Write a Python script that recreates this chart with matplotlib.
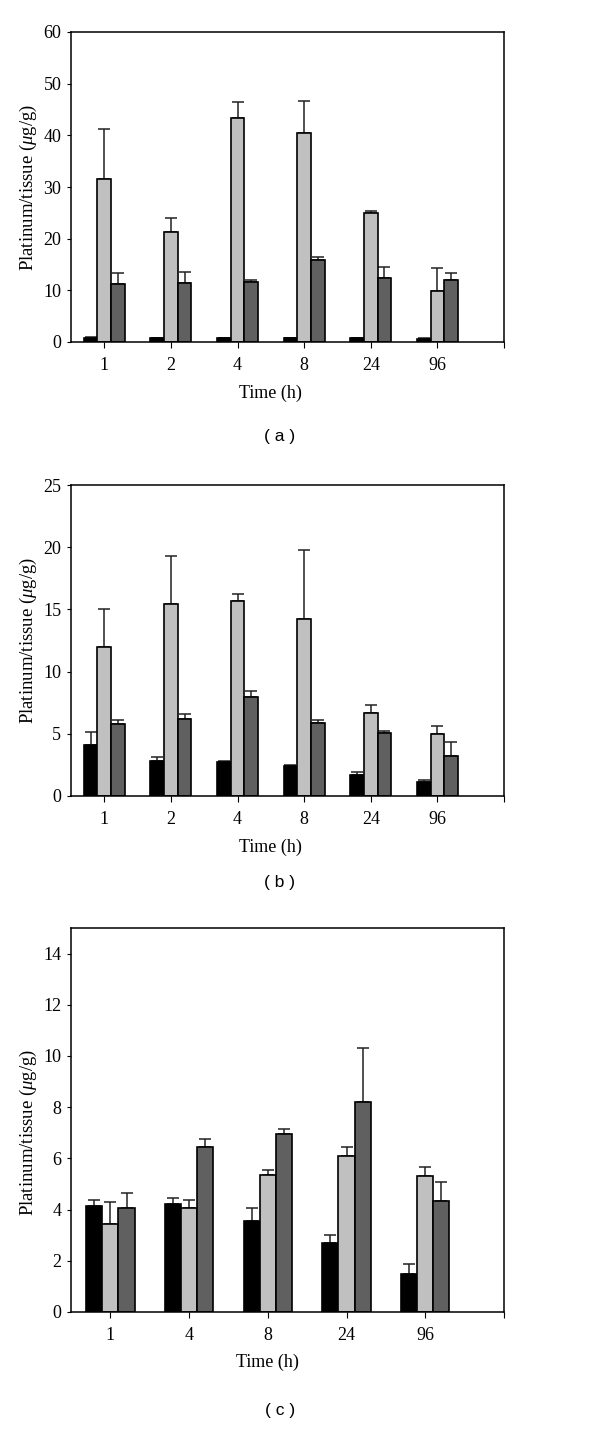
import numpy as np
import matplotlib.pyplot as plt
from matplotlib.ticker import FixedLocator

# panel (a)
times_a = ['1', '2', '4', '8', '24', '96']
black_a = [0.8, 0.7, 0.7, 0.7, 0.7, 0.6]
black_a_err = [0.1, 0.1, 0.1, 0.1, 0.1, 0.1]
light_a = [31.5, 21.3, 43.3, 40.4, 25.0, 9.8]
light_a_err = [9.7, 2.7, 3.1, 6.3, 0.35, 4.6]
dark_a = [11.3, 11.5, 11.7, 15.8, 12.4, 12.0]
dark_a_err = [2.0, 2.0, 0.35, 0.65, 2.2, 1.4]

# panel (b)
times_b = ['1', '2', '4', '8', '24', '96']
black_b = [4.1, 2.8, 2.7, 2.45, 1.7, 1.15]
black_b_err = [1.05, 0.33, 0.1, 0.07, 0.2, 0.17]
light_b = [12.0, 15.4, 15.7, 14.2, 6.7, 4.95]
light_b_err = [3.0, 3.9, 0.55, 5.6, 0.6, 0.68]
dark_b = [5.75, 6.2, 7.95, 5.85, 5.05, 3.2]
dark_b_err = [0.33, 0.4, 0.5, 0.25, 0.2, 1.15]

# panel (c)
times_c = ['1', '4', '8', '24', '96']
black_c = [4.15, 4.2, 3.55, 2.68, 1.5]
black_c_err = [0.22, 0.25, 0.53, 0.32, 0.37]
light_c = [3.45, 4.07, 5.37, 6.1, 5.3]
light_c_err = [0.84, 0.32, 0.19, 0.33, 0.36]
dark_c = [4.06, 6.45, 6.95, 8.2, 4.33]
dark_c_err = [0.58, 0.32, 0.19, 2.13, 0.73]

colors = ['#000000', '#c0c0c0', '#606060']

plt.rcParams['font.family'] = 'serif'
plt.rcParams['font.serif'] = ['Liberation Serif']
plt.rcParams['mathtext.fontset'] = 'custom'
plt.rcParams['mathtext.it'] = 'Liberation Serif:italic'
plt.rcParams['mathtext.rm'] = 'Liberation Serif'


def draw_panel(ax, times, series, errs, ymax, ystep, ytick_max, xlab_y):
    n = len(times)
    x = np.arange(n)
    w = 0.205
    for k, (vals, err, col) in enumerate(zip(series, errs, colors)):
        pos = x + (k - 1) * w
        ax.bar(pos, vals, width=w, color=col, edgecolor='black', linewidth=1.2, zorder=2)
        ax.errorbar(pos, vals, yerr=[np.zeros(n), err], fmt='none', ecolor='#222222',
                    elinewidth=1.1, capsize=4, capthick=1.1, zorder=1)
    ax.set_xlim(-0.5, n)
    ax.set_ylim(0, ymax)
    ax.set_xticks(x)
    ax.set_xticklabels(times)
    ax.xaxis.set_minor_locator(FixedLocator([n]))
    ax.set_yticks(np.arange(0, ytick_max + 0.01, ystep))
    ax.tick_params(axis='both', which='both', labelsize=13)
    ax.tick_params(axis='x', which='both', direction='out', length=4, width=0.8, pad=7)
    ax.tick_params(axis='y', direction='out', length=3, width=0.8, pad=4)
    for s in ax.spines.values():
        s.set_linewidth(1.1)

    ax.set_xlabel('Time (h)', fontsize=13)
    ax.xaxis.set_label_coords(((n - 1) / 2 + 0.5) / (n + 0.5), xlab_y)
    ax.xaxis.label.set_verticalalignment('center')
    ax.set_ylabel(r'Platinum/tissue ($\mu$g/g)', fontsize=13.5)
    ax.yaxis.set_label_coords(-0.099, (ytick_max / 2) / ymax)
    ax.yaxis.label.set_verticalalignment('center')


fig = plt.figure(figsize=(6, 14.29), dpi=100)
W, H = 600, 1429


def add_axes(top, bottom):
    return fig.add_axes([71 / W, 1 - bottom / H, 433 / W, (bottom - top) / H])


ax_a = add_axes(32, 342)
draw_panel(ax_a, times_a, [black_a, light_a, dark_a], [black_a_err, light_a_err, dark_a_err],
           60, 10, 60, -51 / 310)
ax_b = add_axes(485, 796)
draw_panel(ax_b, times_b, [black_b, light_b, dark_b], [black_b_err, light_b_err, dark_b_err],
           25, 5, 25, -51 / 311)
ax_c = add_axes(928, 1312)
draw_panel(ax_c, times_c, [black_c, light_c, dark_c], [black_c_err, light_c_err, dark_c_err],
           15, 2, 14, -50 / 384)

for label, y in [('( a )', 437), ('( b )', 882), ('( c )', 1410)]:
    fig.text(280 / W, 1 - y / H, label, ha='center', va='center',
             fontfamily='Liberation Sans', fontsize=12.5)

fig.savefig('out.png', dpi=100)
